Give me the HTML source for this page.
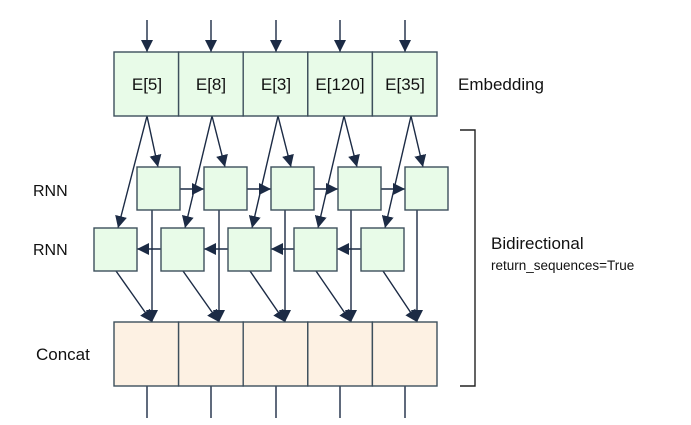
<!DOCTYPE html>
<html><head><meta charset="utf-8"><style>
html,body{margin:0;padding:0;background:#fff;}
svg{display:block;}
text{font-family:"Liberation Sans",sans-serif;fill:#111;}
</style></head><body>
<svg width="691" height="425" viewBox="0 0 691 425" xmlns="http://www.w3.org/2000/svg">
<defs>
<marker id="a" viewBox="0 0 10 10" refX="10" refY="5" markerWidth="12" markerHeight="12" markerUnits="userSpaceOnUse" orient="auto">
<path d="M0,0 L10,5 L0,10 z" fill="#1c2b45"/>
</marker>
</defs>
<g stroke="#1c2b45" stroke-width="1.4" fill="none">
<line x1="147" y1="20" x2="147" y2="52" marker-end="url(#a)"/>
<line x1="211" y1="20" x2="211" y2="52" marker-end="url(#a)"/>
<line x1="276" y1="20" x2="276" y2="52" marker-end="url(#a)"/>
<line x1="340" y1="20" x2="340" y2="52" marker-end="url(#a)"/>
<line x1="405" y1="20" x2="405" y2="52" marker-end="url(#a)"/>
<line x1="147" y1="116" x2="158" y2="167" marker-end="url(#a)"/>
<line x1="212" y1="116" x2="225" y2="167" marker-end="url(#a)"/>
<line x1="278" y1="116" x2="291" y2="167" marker-end="url(#a)"/>
<line x1="344" y1="116" x2="357" y2="167" marker-end="url(#a)"/>
<line x1="411" y1="116" x2="423" y2="167" marker-end="url(#a)"/>
<line x1="147" y1="116" x2="118" y2="228" marker-end="url(#a)"/>
<line x1="212" y1="116" x2="185" y2="228" marker-end="url(#a)"/>
<line x1="278" y1="116" x2="252" y2="228" marker-end="url(#a)"/>
<line x1="344" y1="116" x2="318" y2="228" marker-end="url(#a)"/>
<line x1="411" y1="116" x2="385" y2="228" marker-end="url(#a)"/>
<line x1="152" y1="210" x2="152" y2="322" marker-end="url(#a)"/>
<line x1="219" y1="210" x2="219" y2="322" marker-end="url(#a)"/>
<line x1="285" y1="210" x2="285" y2="322" marker-end="url(#a)"/>
<line x1="351" y1="210" x2="351" y2="322" marker-end="url(#a)"/>
<line x1="417" y1="210" x2="417" y2="322" marker-end="url(#a)"/>
<line x1="116" y1="271" x2="152" y2="322" marker-end="url(#a)"/>
<line x1="183" y1="271" x2="219" y2="322" marker-end="url(#a)"/>
<line x1="250" y1="271" x2="285" y2="322" marker-end="url(#a)"/>
<line x1="316" y1="271" x2="351" y2="322" marker-end="url(#a)"/>
<line x1="383" y1="271" x2="417" y2="322" marker-end="url(#a)"/>
<line x1="180" y1="189" x2="204" y2="189" marker-end="url(#a)"/>
<line x1="247" y1="189" x2="271" y2="189" marker-end="url(#a)"/>
<line x1="314" y1="189" x2="338" y2="189" marker-end="url(#a)"/>
<line x1="381" y1="189" x2="405" y2="189" marker-end="url(#a)"/>
<line x1="161" y1="249" x2="137" y2="249" marker-end="url(#a)"/>
<line x1="228" y1="249" x2="204" y2="249" marker-end="url(#a)"/>
<line x1="294" y1="249" x2="271" y2="249" marker-end="url(#a)"/>
<line x1="361" y1="249" x2="337" y2="249" marker-end="url(#a)"/>
<line x1="147" y1="386" x2="147" y2="418"/>
<line x1="211" y1="386" x2="211" y2="418"/>
<line x1="276" y1="386" x2="276" y2="418"/>
<line x1="340" y1="386" x2="340" y2="418"/>
<line x1="405" y1="386" x2="405" y2="418"/>
</g>
<g stroke="#3d4f5c" stroke-width="1.4">
<rect x="114" y="52" width="64.6" height="64" fill="#e8fbe8"/>
<rect x="178.6" y="52" width="64.6" height="64" fill="#e8fbe8"/>
<rect x="243.2" y="52" width="64.6" height="64" fill="#e8fbe8"/>
<rect x="307.8" y="52" width="64.6" height="64" fill="#e8fbe8"/>
<rect x="372.4" y="52" width="64.6" height="64" fill="#e8fbe8"/>
<rect x="137" y="167" width="43" height="43" fill="#e8fbe8"/>
<rect x="204" y="167" width="43" height="43" fill="#e8fbe8"/>
<rect x="271" y="167" width="43" height="43" fill="#e8fbe8"/>
<rect x="338" y="167" width="43" height="43" fill="#e8fbe8"/>
<rect x="405" y="167" width="43" height="43" fill="#e8fbe8"/>
<rect x="94" y="228" width="43" height="43" fill="#e8fbe8"/>
<rect x="161" y="228" width="43" height="43" fill="#e8fbe8"/>
<rect x="228" y="228" width="43" height="43" fill="#e8fbe8"/>
<rect x="294" y="228" width="43" height="43" fill="#e8fbe8"/>
<rect x="361" y="228" width="43" height="43" fill="#e8fbe8"/>
<rect x="114" y="322" width="64.6" height="64" fill="#fdf1e3"/>
<rect x="178.6" y="322" width="64.6" height="64" fill="#fdf1e3"/>
<rect x="243.2" y="322" width="64.6" height="64" fill="#fdf1e3"/>
<rect x="307.8" y="322" width="64.6" height="64" fill="#fdf1e3"/>
<rect x="372.4" y="322" width="64.6" height="64" fill="#fdf1e3"/>
</g>
<path d="M460,130 H475 V386 H460" stroke="#222" stroke-width="1.4" fill="none"/>
<g font-size="17" text-anchor="middle">
<text x="147" y="90">E[5]</text>
<text x="211" y="90">E[8]</text>
<text x="276" y="90">E[3]</text>
<text x="340" y="90">E[120]</text>
<text x="405" y="90">E[35]</text>
</g>
<text x="458" y="90" font-size="17">Embedding</text>
<text x="33" y="196" font-size="16">RNN</text>
<text x="33" y="255" font-size="16">RNN</text>
<text x="36" y="360" font-size="17">Concat</text>
<text x="491" y="249" font-size="17">Bidirectional</text>
<text x="491" y="270" font-size="13.5">return_sequences=True</text>
</svg>
</body></html>
